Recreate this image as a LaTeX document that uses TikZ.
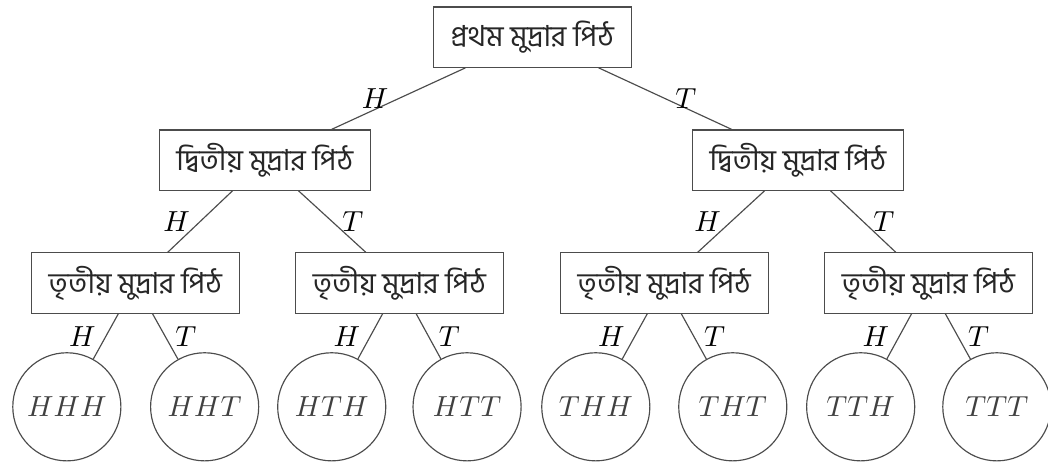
\documentclass[tikz,border=0pt]{standalone}
\usepackage{fontspec}
\usepackage{amsmath}
\usepackage{tikz}
\newfontfamily\bnfont[Script=Bengali]{Hind Siliguri}

\begin{document}
\begin{tikzpicture}[
			box style/.style={
				draw=black!70,
				align=center,
				minimum height=0.73cm,
				inner xsep=6pt,
				font=\bnfont,
				text=black!85
			},
			leaf style/.style={
				draw=black!70,
				circle,
				minimum size=1.31cm,
				inner sep=0pt,
				text=black!75
			},
			edge style/.style={
				draw=black!70,
				thin
			},
			>=latex
			]
			\useasboundingbox (0,0) rectangle (12.70,-5.61);
			
			% first coin
			\node[box style] (R) at (6.45,-0.45) {প্রথম মুদ্রার পিঠ};
			
			% second coin
			\node[box style] (S1) at (3.21,-1.94) {দ্বিতীয় মুদ্রার পিঠ};
			\node[box style] (S2) at (9.67,-1.94) {দ্বিতীয় মুদ্রার পিঠ};
			
			% third coin
			\node[box style] (T1) at (1.64,-3.43) {তৃতীয় মুদ্রার পিঠ};
			\node[box style] (T2) at (4.84,-3.43) {তৃতীয় মুদ্রার পিঠ};
			\node[box style] (T3) at (8.05,-3.43) {তৃতীয় মুদ্রার পিঠ};
			\node[box style] (T4) at (11.25,-3.43) {তৃতীয় মুদ্রার পিঠ};
			
			% outcomes
			\node[leaf style] (HHH) at (0.81,-4.93) {$HHH$};
			\node[leaf style] (HHT) at (2.48,-4.93) {$HHT$};
			\node[leaf style] (HTH) at (4.02,-4.93) {$HTH$};
			\node[leaf style] (HTT) at (5.66,-4.93) {$HTT$};
			\node[leaf style] (THH) at (7.22,-4.93) {$THH$};
			\node[leaf style] (THT) at (8.88,-4.93) {$THT$};
			\node[leaf style] (TTH) at (10.43,-4.93) {$TTH$};
			\node[leaf style] (TTT) at (12.08,-4.93) {$TTT$};
			
			\draw[edge style] (R) -- node[left, pos=0.5] {$H$} (S1);
			\draw[edge style] (R) -- node[right, pos=0.5] {$T$} (S2);
			
			\draw[edge style] (S1) -- node[left, pos=0.5] {$H$} (T1);
			\draw[edge style] (S1) -- node[right, pos=0.5] {$T$} (T2);
			\draw[edge style] (S2) -- node[left, pos=0.5] {$H$} (T3);
			\draw[edge style] (S2) -- node[right, pos=0.5] {$T$} (T4);
			
			\draw[edge style] (T1) -- node[left, pos=0.5] {$H$} (HHH);
			\draw[edge style] (T1) -- node[right, pos=0.5] {$T$} (HHT);
			\draw[edge style] (T2) -- node[left, pos=0.5] {$H$} (HTH);
			\draw[edge style] (T2) -- node[right, pos=0.5] {$T$} (HTT);
			\draw[edge style] (T3) -- node[left, pos=0.5] {$H$} (THH);
			\draw[edge style] (T3) -- node[right, pos=0.5] {$T$} (THT);
			\draw[edge style] (T4) -- node[left, pos=0.5] {$H$} (TTH);
			\draw[edge style] (T4) -- node[right, pos=0.5] {$T$} (TTT);
			
		\end{tikzpicture}
\end{document}
